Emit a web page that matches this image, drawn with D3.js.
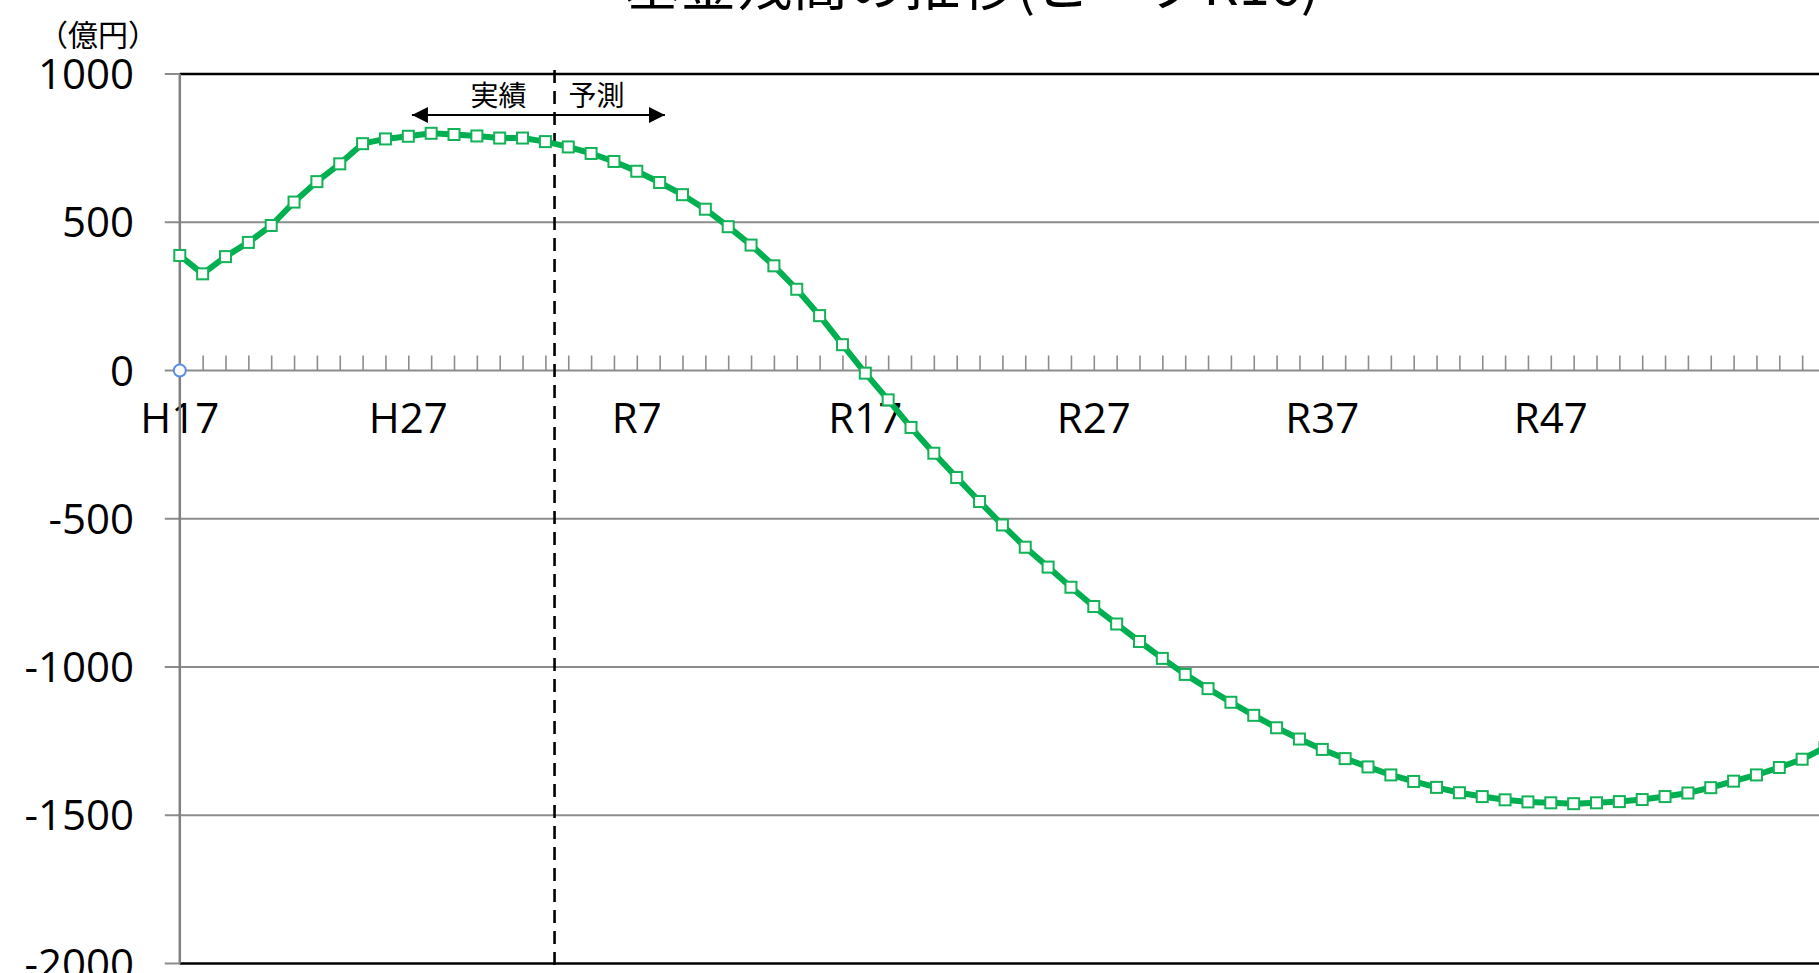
<!DOCTYPE html>
<html><head><meta charset="utf-8">
<script src="https://cdn.jsdelivr.net/npm/d3@7"></script>
<style>
html,body{margin:0;padding:0;background:#fff;overflow:hidden;}
svg{display:block;}
</style></head>
<body>
<svg id="c" width="1819" height="973"></svg>
<script>
// ---- data ----
const categories = ["H17","H18","H19","H20","H21","H22","H23","H24","H25","H26",
  "H27","H28","H29","H30","R1","R2","R3","R4","R5","R6",
  "R7","R8","R9","R10","R11","R12","R13","R14","R15","R16",
  "R17","R18","R19","R20","R21","R22","R23","R24","R25","R26",
  "R27","R28","R29","R30","R31","R32","R33","R34","R35","R36",
  "R37","R38","R39","R40","R41","R42","R43","R44","R45","R46",
  "R47","R48","R49","R50","R51","R52","R53","R54","R55","R56",
  "R57","R58","R59"];
const balance = [388,326,384,432,489,568,637,697,765,781,
  790,800,796,791,784,784,772,754,732,705,
  672,634,593,544,485,423,353,274,185,87,
  -9,-99,-192,-279,-361,-442,-521,-596,-663,-731,
  -796,-855,-914,-971,-1025,-1073,-1119,-1163,-1205,-1243,
  -1278,-1309,-1337,-1364,-1386,-1406,-1424,-1437,-1448,-1455,
  -1458,-1461,-1458,-1454,-1447,-1437,-1425,-1407,-1385,-1364,
  -1339,-1311,-1272];
const xTickLabels = ["H17","H27","R7","R17","R27","R37","R47"];
const yTicks = [1000,500,0,-500,-1000,-1500,-2000];
const titleText = "基金残高の推移(ピークR16)";
const unitText = "（億円）";
const actualLabel = "実績";
const forecastLabel = "予測";

(function(){
// ---- layout ----
const svg = d3.select("#c");
const W = 1819, H = 973;
const pLeft = 179.8, pTop = 74, pBottom = 963.5;
const step = 22.85;
const x = d3.scaleLinear().domain([0, categories.length - 1]).range([pLeft, pLeft + step * (categories.length - 1)]);
const y = d3.scaleLinear().domain([-2000, 1000]).range([pBottom, pTop]);
const green = "#00B050";
const grid = "#8c8c8c";
const latin = "'Open Sans','Liberation Sans',sans-serif";
const cjk = "'Noto Sans CJK JP','Noto Sans CJK SC',sans-serif";

// title (cut at top)
svg.append("text").attr("x", 972).attr("y", 5)
  .attr("text-anchor","middle").attr("font-family", cjk).attr("font-size", 56)
  .attr("fill","#000").text(titleText);

// unit
svg.append("text").attr("x", 38).attr("y", 46)
  .attr("font-family", cjk).attr("font-size", 30).attr("fill","#000").text(unitText);

// horizontal grid + y tick marks
yTicks.forEach(v => {
  const border = (v === 1000 || v === -2000);
  svg.append("line").attr("x1", pLeft - 15).attr("x2", pLeft)
    .attr("y1", y(v)).attr("y2", y(v)).attr("stroke", grid).attr("stroke-width", 2);
  svg.append("line").attr("x1", pLeft).attr("x2", W)
    .attr("y1", y(v)).attr("y2", y(v))
    .attr("stroke", border ? "#000" : grid).attr("stroke-width", border ? 2.5 : 2);
  svg.append("text").attr("x", 134).attr("y", y(v) + 15)
    .attr("text-anchor","end").attr("font-family", latin).attr("font-size", 42)
    .attr("fill","#000").text(v);
});

// x category ticks on the zero line (upward)
const xAxis = d3.axisTop(x).tickValues(d3.range(1, categories.length)).tickSize(15).tickFormat("");
const gx = svg.append("g").attr("transform", `translate(0,${y(0)})`).call(xAxis);
gx.select(".domain").remove();
gx.selectAll(".tick line").attr("stroke", grid).attr("stroke-width", 1.6);

// x labels
xTickLabels.forEach(lbl => {
  const i = categories.indexOf(lbl);
  svg.append("text").attr("x", x(i)).attr("y", 433)
    .attr("text-anchor","middle").attr("font-family", latin).attr("font-size", 42)
    .attr("fill","#000").text(lbl);
});

// left axis
svg.append("line").attr("x1", pLeft).attr("x2", pLeft).attr("y1", pTop).attr("y2", pBottom)
  .attr("stroke", "#808080").attr("stroke-width", 2.5);

// dashed separator between actual and forecast
const sepIdx = categories.indexOf("R3") + 0.4;
svg.append("line").attr("x1", x(sepIdx)).attr("x2", x(sepIdx)).attr("y1", pTop - 4).attr("y2", H)
  .attr("stroke","#000").attr("stroke-width", 2.6).attr("stroke-dasharray","13,8");

// arrow
const defs = svg.append("defs");
defs.append("marker").attr("id","ah").attr("viewBox","0 0 10 10").attr("refX",10).attr("refY",5)
  .attr("markerWidth",16).attr("markerHeight",16).attr("markerUnits","userSpaceOnUse").attr("orient","auto-start-reverse")
  .append("path").attr("d","M0,0 L10,5 L0,10 Z").attr("fill","#000");
const arrowL = categories.indexOf("H27") + 0.16, arrowR = categories.indexOf("R8") + 0.23;
svg.append("line").attr("x1", x(arrowL)).attr("x2", x(arrowR)).attr("y1", 115).attr("y2", 115)
  .attr("stroke","#000").attr("stroke-width", 2)
  .attr("marker-start","url(#ah)").attr("marker-end","url(#ah)");
svg.append("text").attr("x", x(sepIdx) - 56).attr("y", 106).attr("text-anchor","middle")
  .attr("font-family", cjk).attr("font-size", 28).attr("fill","#000").text(actualLabel);
svg.append("text").attr("x", x(sepIdx) + 42).attr("y", 106).attr("text-anchor","middle")
  .attr("font-family", cjk).attr("font-size", 28).attr("fill","#000").text(forecastLabel);

// series line
const line = d3.line().x((d,i) => x(i)).y(d => y(d));
svg.append("path").datum(balance).attr("d", line).attr("fill","none")
  .attr("stroke", green).attr("stroke-width", 6).attr("stroke-linejoin","round");
svg.selectAll("rect.mk").data(balance).enter().append("rect").attr("class","mk")
  .attr("x", (d,i) => x(i) - 5.5).attr("y", d => y(d) - 5.5).attr("width", 11).attr("height", 11)
  .attr("fill","#fff").attr("stroke", "#12b257").attr("stroke-width", 2);

// selection handle at origin
svg.append("circle").attr("cx", x(0)).attr("cy", y(0)).attr("r", 6)
  .attr("fill","#fff").attr("stroke","#5b8ee6").attr("stroke-width", 2);
})();
</script>
</body></html>
